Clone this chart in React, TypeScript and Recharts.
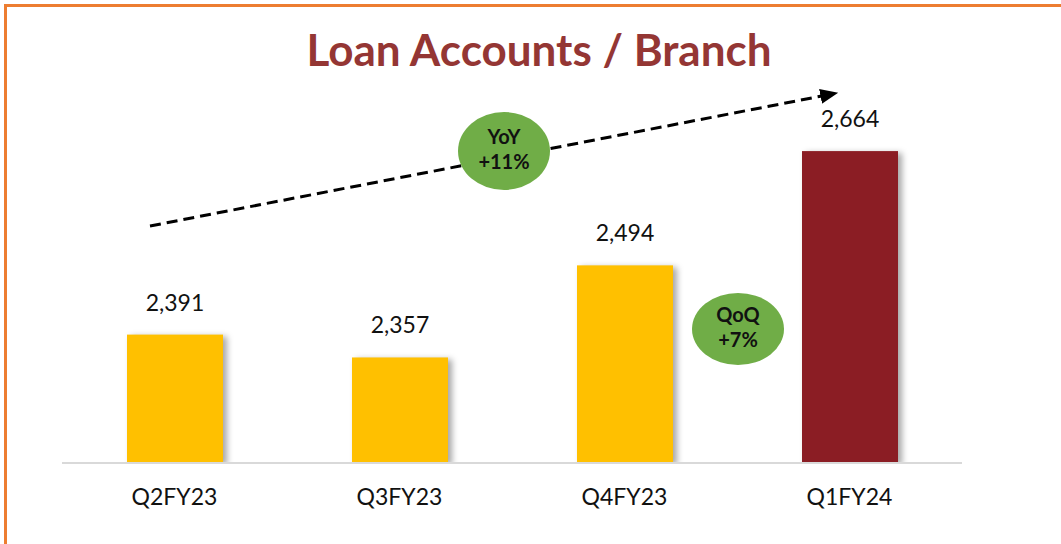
import { BarChart, Bar, XAxis, YAxis, LabelList } from "recharts";

// Loan accounts per branch, last four quarters
const QUARTERS = ["Q2FY23", "Q3FY23", "Q4FY23", "Q1FY24"];
const ACCOUNTS_PER_BRANCH = [2391, 2357, 2494, 2664];
const Y_DOMAIN: [number, number] = [2200, 2740];
const LATEST = "Q1FY24";
const YOY_TEXT = ["YoY", "+11%"];
const QOQ_TEXT = ["QoQ", "+7%"];

const data = QUARTERS.map((q, i) => ({ q, v: ACCOUNTS_PER_BRANCH[i] }));

const FONT = "Lato, 'Open Sans', sans-serif";
const YELLOW = "#FFC000";
const MAROON = "#8B1D24";

function ShadowBar(props: any) {
  const { x, y, width, height, payload } = props;
  return (
    <rect
      x={x}
      y={y}
      width={width}
      height={height}
      fill={payload.q === LATEST ? MAROON : YELLOW}
      style={{ filter: "drop-shadow(4px 2px 3px rgba(0,0,0,0.35))" }}
    />
  );
}

function Badge({ cx, cy, rx, ry, lines }: { cx: number; cy: number; rx: number; ry: number; lines: string[] }) {
  return (
    <g>
      <ellipse cx={cx} cy={cy} rx={rx} ry={ry} fill="#70AD47" />
      {lines.map((t, i) => (
        <text
          key={t}
          x={cx}
          y={cy - 3 + (i === 0 ? -4 : 21)}
          textAnchor="middle"
          fontFamily={FONT}
          fontWeight={700}
          fontSize={20}
          fill="#111"
        >
          {t}
        </text>
      ))}
    </g>
  );
}

export default function App() {
  return (
    <div style={{ position: "absolute", top: 0, left: 0, width: 1061, height: 544, background: "#fff" }}>
      {/* orange frame, only top and left edges visible */}
      <div style={{ position: "absolute", top: 4, left: 4, right: 0, height: 3, background: "#ED7D31" }} />
      <div style={{ position: "absolute", top: 4, left: 4, bottom: 0, width: 3, background: "#ED7D31" }} />

      <BarChart
        width={1061}
        height={544}
        data={data}
        margin={{ top: 100, right: 99, bottom: 51, left: 62 }}
        style={{ fontFamily: FONT }}
      >
        <XAxis
          dataKey="q"
          height={30}
          axisLine={{ stroke: "#D9D9D9", strokeWidth: 2 }}
          tickLine={false}
          tickSize={0}
          tickMargin={26}
          tick={{ fill: "#111", fontSize: 23, fontFamily: FONT }}
        />
        <YAxis hide domain={Y_DOMAIN} allowDataOverflow />
        <Bar dataKey="v" barSize={96} shape={ShadowBar} isAnimationActive={false}>
          <LabelList
            dataKey="v"
            position="top"
            offset={24}
            formatter={(v: any) => Number(v).toLocaleString("en-US")}
            style={{ fill: "#111", fontSize: 23, fontFamily: FONT }}
          />
        </Bar>
      </BarChart>

      {/* title + growth annotations */}
      <svg width={1061} height={544} style={{ position: "absolute", top: 0, left: 0, pointerEvents: "none" }}>
        <defs>
          <marker id="arrowHead" markerWidth="6" markerHeight="5" refX="0.5" refY="2.5" orient="auto" markerUnits="strokeWidth">
            <path d="M0,0 L6,2.5 L0,5 Z" fill="#000" />
          </marker>
        </defs>
        <text x={539} y={66} textAnchor="middle" fontFamily={FONT} fontWeight={700} fontSize={44} fill="#943634">
          Loan Accounts / Branch
        </text>
        <line
          x1={150}
          y1={226}
          x2={822}
          y2={96}
          stroke="#000"
          strokeWidth={3}
          strokeDasharray="11 6"
          markerEnd="url(#arrowHead)"
        />
        <Badge cx={504} cy={151} rx={46} ry={39} lines={YOY_TEXT} />
        <Badge cx={738} cy={329} rx={46} ry={36} lines={QOQ_TEXT} />
      </svg>
    </div>
  );
}
